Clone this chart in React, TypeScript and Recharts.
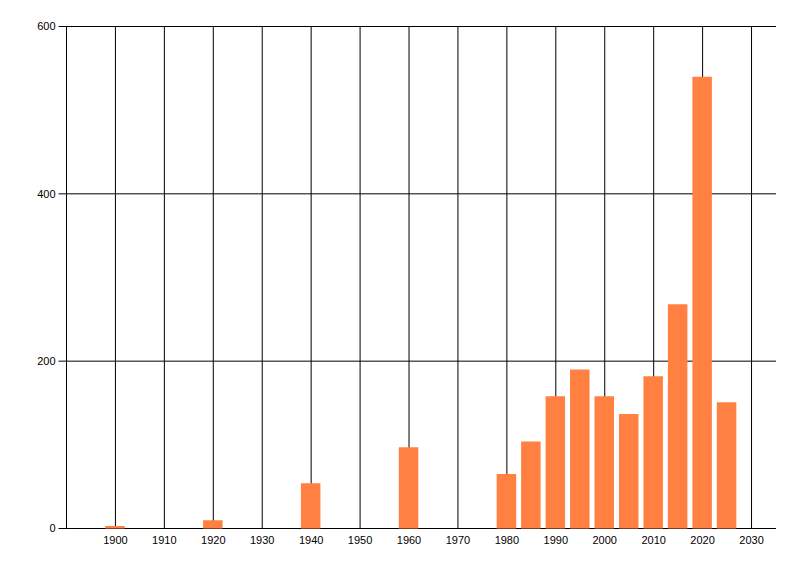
import React from "react";
import { BarChart, Bar, XAxis, YAxis, CartesianGrid, ReferenceLine } from "recharts";

const years = [1900, 1920, 1940, 1960, 1980, 1985, 1990, 1995, 2000, 2005, 2010, 2015, 2020, 2025];
const counts = [3, 10, 54, 97, 65, 104, 158, 190, 158, 137, 182, 268, 540, 151];
const xTicks = [1900, 1910, 1920, 1930, 1940, 1950, 1960, 1970, 1980, 1990, 2000, 2010, 2020, 2030];
const yTicks = [0, 200, 400, 600];

const data = years.map((y, i) => ({ year: y, count: counts[i] }));

const font = { fontFamily: "'Liberation Sans', Arial, sans-serif", fontSize: 11, fill: "#000" };
const W = 784;
const H = 560;
const margin = { top: 18.5, right: 16, bottom: 9.5, left: 8 };

export default function App() {
  return (
    <div style={{ width: W, height: H, position: "relative" }}>
      <div style={{ position: "absolute", left: 0, top: 0 }}>
        <BarChart width={W} height={H} data={data} margin={margin}>
          <CartesianGrid stroke="#000" strokeWidth={1} vertical={false} />
          {xTicks.map((t) => (
            <ReferenceLine key={t} x={t} stroke="#000" strokeWidth={1} />
          ))}
          <XAxis
            dataKey="year"
            type="number"
            domain={[1890, 2035]}
            ticks={xTicks}
            allowDataOverflow
            height={30}
            tickLine={false}
            tickSize={4}
            tickMargin={4}
            axisLine={{ stroke: "#000" }}
            tick={font}
          />
          <YAxis
            type="number"
            domain={[0, 600]}
            ticks={yTicks}
            width={50.5}
            tickSize={8}
            tickMargin={3}
            axisLine={{ stroke: "#000" }}
            tickLine={{ stroke: "#000" }}
            tick={font}
          />
          <Bar dataKey="count" fill="none" fillOpacity={0} barSize={19.5} isAnimationActive={false} />
        </BarChart>
      </div>
      <div style={{ position: "absolute", left: 0, top: 0 }}>
        <BarChart width={W} height={H} data={data} margin={margin}>
          <XAxis
            dataKey="year"
            type="number"
            domain={[1890, 2035]}
            ticks={xTicks}
            allowDataOverflow
            height={30}
            tickLine={false}
            axisLine={false}
            tick={false}
          />
          <YAxis
            type="number"
            domain={[0, 600]}
            ticks={yTicks}
            width={50.5}
            tickLine={false}
            axisLine={false}
            tick={false}
          />
          <Bar dataKey="count" fill="#FF8040" barSize={19.5} isAnimationActive={false} />
        </BarChart>
      </div>
    </div>
  );
}
